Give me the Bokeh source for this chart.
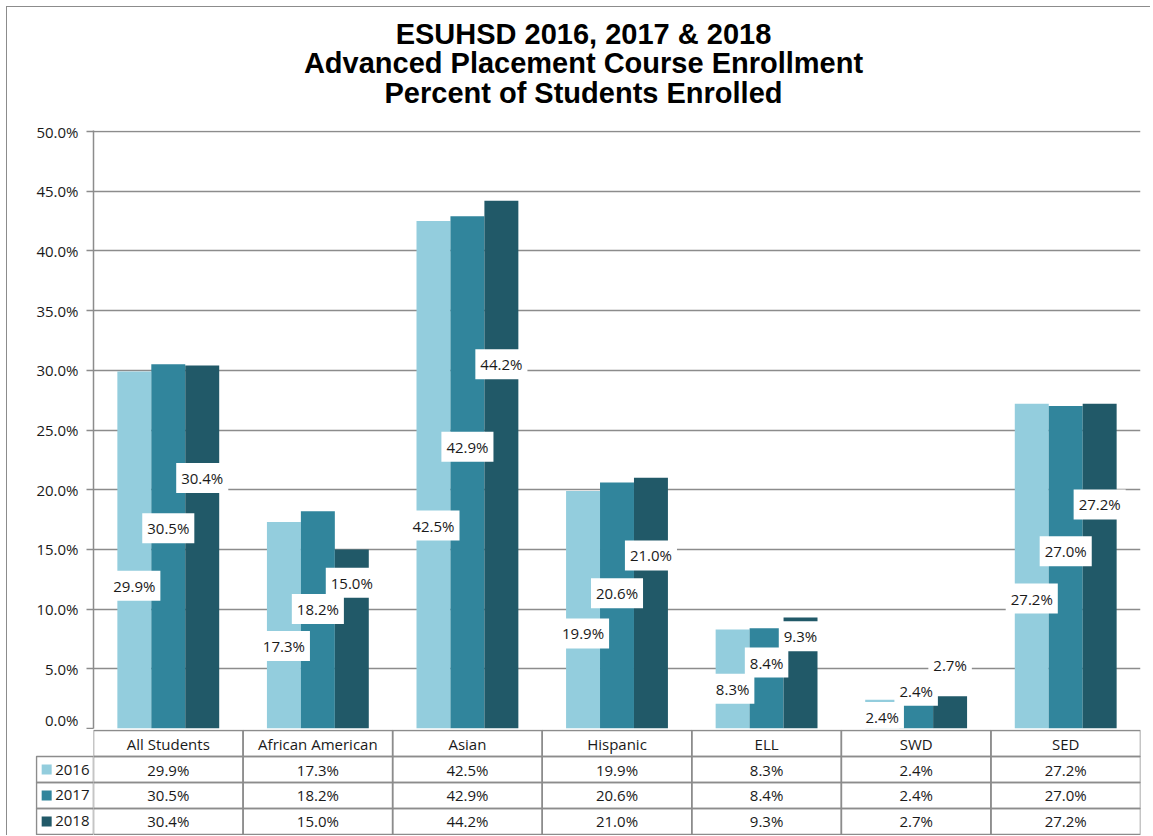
import numpy as np
from bokeh.plotting import figure
from bokeh.layouts import column, row
from bokeh.models import (ColumnDataSource, Range1d, SingleIntervalTicker,
                          PrintfTickFormatter)
from bokeh.core.properties import value
from bokeh.embed import file_html
from bokeh.resources import INLINE

# ---------------- data ----------------
categories = ["All Students", "African American", "Asian", "Hispanic", "ELL", "SWD", "SED"]
years = ["2016", "2017", "2018"]
pct_2016 = [29.9, 17.3, 42.5, 19.9, 8.3, 2.4, 27.2]
pct_2017 = [30.5, 18.2, 42.9, 20.6, 8.4, 2.4, 27.0]
pct_2018 = [30.4, 15.0, 44.2, 21.0, 9.3, 2.7, 27.2]
title_lines = ["ESUHSD 2016, 2017 & 2018",
               "Advanced Placement Course Enrollment",
               "Percent of Students Enrolled"]
y_max = 50
y_step = 5

# ---------------- style ----------------
series = [pct_2016, pct_2017, pct_2018]
colors = ["#93CDDD", "#31859C", "#215968"]
label_frac = [0.40, 0.55, 0.69]   # where each series' value box sits in its bar
label_gap = 2.2                   # minimum vertical step between boxes (axis units)
bar_w = 0.227
offsets = [-bar_w, 0.0, bar_w]
FONT = "Open Sans"
TEXT = "#1a1a1a"
GRID = "#8c8c8c"
BL, BR = 86, 10          # left / right borders shared by the stacked figures
FRAME_W = 1047
W = BL + FRAME_W + BR
n = len(categories)
centers = np.arange(n) + 0.5
unit_px = FRAME_W / n

# ---------------- title ----------------
tf = figure(width=W, height=112, x_range=Range1d(0, FRAME_W), y_range=Range1d(112, 0),
            x_axis_type=None, y_axis_type=None, output_backend="svg",
            toolbar_location=None, min_border_left=BL, min_border_right=BR,
            min_border_top=0, min_border_bottom=0, outline_line_color=None)
tf.text(x=[490] * 3, y=[26, 55.3, 85], text=title_lines,
        text_font=value("Liberation Sans"), text_font_style="bold",
        text_font_size="29px", text_color="black",
        text_align="center", text_baseline="middle")

# ---------------- chart ----------------
frame_h = 598
p = figure(width=W, height=610, x_range=Range1d(0, n),
           y_range=Range1d(0, y_max * frame_h / (frame_h - 1)),
           x_axis_type=None, output_backend="svg", toolbar_location=None,
           min_border_left=BL, min_border_right=BR, min_border_top=11,
           min_border_bottom=1, outline_line_color=None)
p.yaxis.ticker = SingleIntervalTicker(interval=y_step, num_minor_ticks=0)
p.yaxis.formatter = PrintfTickFormatter(format="%.1f%%")
p.yaxis.axis_line_color = GRID
p.yaxis.axis_line_width = 1.5
p.yaxis.major_tick_line_color = GRID
p.yaxis.major_tick_line_width = 1.5
p.yaxis.major_tick_out = 7
p.yaxis.major_tick_in = 0
p.yaxis.minor_tick_line_color = None
p.yaxis.major_label_standoff = 8
p.yaxis.major_label_text_font = FONT
p.yaxis.major_label_text_font_size = "15px"
p.yaxis.major_label_text_color = TEXT
p.ygrid.grid_line_color = GRID
p.ygrid.grid_line_width = 1.5

srcs = []
prev = None
for vals, col, off, fr in zip(series, colors, offsets, label_frac):
    ly = np.array(vals) * fr
    if prev is not None:
        ly = np.maximum(ly, prev + label_gap)
    prev = ly
    src = ColumnDataSource(dict(
        x=centers + off, top=vals, ly=ly,
        lab=[f"{v:.1f}%" for v in vals]))
    p.vbar(x="x", top="top", bottom=0, width=bar_w, source=src,
           fill_color=col, line_color=None)
    srcs.append(src)
for src in srcs:
    p.text(x="x", y="ly", text="lab", source=src,
           text_font=value(FONT), text_font_size="15px", text_color=TEXT,
           text_align="center", text_baseline="middle",
           background_fill_color="white", padding=5)

# ---------------- data table ----------------
n_rows = len(years) + 1
TB_H = 106
yr_range = (n_rows + 0.04, -0.04)

# value / header cells: same horizontal frame as the chart
tb = figure(width=FRAME_W + BR, height=TB_H, x_range=Range1d(0, n),
            y_range=Range1d(*yr_range), x_axis_type=None,
            y_axis_type=None, output_backend="svg", toolbar_location=None,
            min_border_left=0, min_border_right=BR, min_border_top=0,
            min_border_bottom=0, outline_line_color=None)
cx, cy = [], []
for r in range(n_rows):
    for i in range(n):
        cx.append(centers[i]); cy.append(r + 0.5)
tb.rect(x=cx, y=cy, width=1, height=1, fill_color=None,
        line_color=GRID, line_width=1.5)
tb.text(x=centers, y=[0.5] * n, text=categories, text_font=value(FONT),
        text_font_size="15px", text_color=TEXT, text_align="center",
        text_baseline="middle")
for r, vals in enumerate(series):
    tb.text(x=centers, y=[r + 1.5] * n, text=[f"{v:.1f}%" for v in vals],
            text_font=value(FONT), text_font_size="15px", text_color=TEXT,
            text_align="center", text_baseline="middle")

# legend column, to the left of the value cells
LEG_W = 58                        # legend column width, px
lg = figure(width=BL, height=TB_H, x_range=Range1d(-LEG_W / unit_px, 0),
            y_range=Range1d(*yr_range), x_axis_type=None, y_axis_type=None,
            output_backend="svg", toolbar_location=None,
            min_border_left=BL - LEG_W, min_border_right=0, min_border_top=0,
            min_border_bottom=0, outline_line_color=None)
leg_w = (LEG_W - 1) / unit_px
yrow = [r + 1.5 for r in range(len(years))]
lg.rect(x=[-leg_w / 2] * len(years), y=yrow, width=leg_w, height=1,
        fill_color=None, line_color=GRID, line_width=1.5)
lg.scatter(x=[-leg_w + 0.068] * len(years), y=yrow, marker="square", size=10,
           fill_color=colors, line_color=None)
lg.text(x=[-leg_w + 0.125] * len(years), y=yrow, text=years,
        text_font=value(FONT), text_font_size="15px", text_color=TEXT,
        text_align="left", text_baseline="middle")

layout = column(tf, p, row(lg, tb, spacing=0), spacing=0,
                styles={"margin-left": "6px", "margin-top": "6px",
                        "border-left": "1px solid #8c8c8c",
                        "border-top": "1px solid #8c8c8c"})

open("out.html", "w").write(file_html(layout, INLINE))
